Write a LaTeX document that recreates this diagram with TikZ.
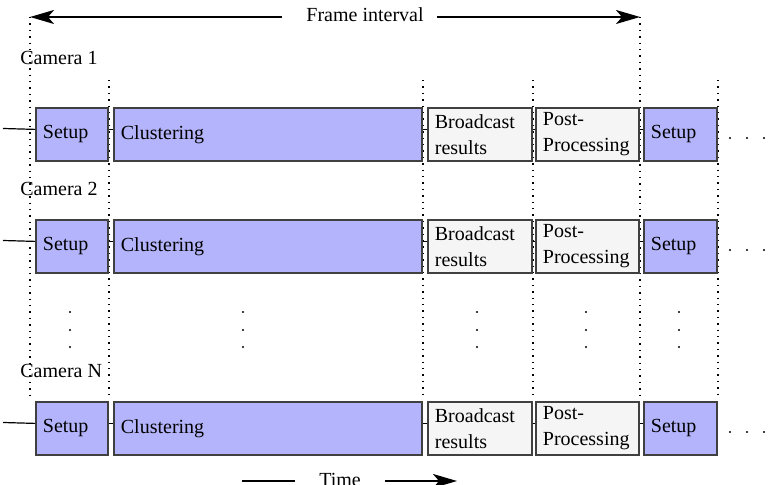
\documentclass[tikz,border=0pt]{standalone}
\usepackage{fontspec}
\setmainfont{Liberation Serif}
\usetikzlibrary{arrows.meta}
\definecolor{stageblue}{RGB}{180,180,252}
\definecolor{stagegray}{RGB}{245,245,245}
\definecolor{stageedge}{RGB}{64,64,64}
\tikzset{
  stage/.style={draw=stageedge, fill=#1, line width=0.9pt, anchor=north west,
    minimum height=26.5pt, inner xsep=3.5pt, inner ysep=0pt, align=left,
    font=\fontsize{10}{13}\selectfont},
  guide/.style={line width=0.7pt, dash pattern=on 0.7pt off 2.5pt},
  link/.style={line width=0.6pt},
  span/.style={line width=0.9pt, -{Stealth[length=12pt,width=7pt,inset=3pt]}},
  camlabel/.style={anchor=west, inner sep=0pt}
}
\begin{document}
\begin{tikzpicture}[x=0.5pt,y=-0.5pt]
  \useasboundingbox (0,0) rectangle (775,485);
  % frame interval
  \node (frame) at (365,15) {Frame interval};
  \coordinate (fl) at (30,17);
  \coordinate (fla) at (282,17);
  \coordinate (fr) at (640,17);
  \coordinate (fra) at (437,17);
  \draw[span] (fla) -- (fl);
  \draw[span] (fra) -- (fr);
  % time lines
  \foreach \x/\t in {30/17,109/80,423/80,533/80,640/17,718/80}
    \draw[guide] (\x,\t) -- (\x,399);
  % cameras
  \node[camlabel] (cam1) at (20,58) {Camera 1};
  \node[camlabel] (cam2) at (20,189) {Camera 2};
  \node[camlabel] (camN) at (20,371) {Camera N};
  \foreach \r/\y in {1/107,2/219,3/401} {
    \coordinate (in\r) at (3,\y+21.5);
    \node[stage=stageblue, text width=29pt] (setupa\r) at (35,\y) {Setup};
    \node[stage=stageblue, text width=147pt] (clust\r) at (113,\y) {Clustering};
    \node[stage=stagegray, text width=45pt] (bcast\r) at (427,\y) {Broadcast\\results};
    \node[stage=stagegray, text width=44.5pt] (post\r) at (535,\y) {Post-\\Processing};
    \node[stage=stageblue, text width=29.5pt] (setupb\r) at (643,\y) {Setup};
    \draw[link] (in\r) -- ([yshift=2.5pt]setupa\r.west);
    \draw[link] ([yshift=2.5pt]setupa\r.east) -- ([yshift=2.5pt]clust\r.west);
    \draw[link] ([yshift=2.5pt]clust\r.east) -- ([yshift=2.5pt]bcast\r.west);
    \draw[link] ([yshift=2.5pt]bcast\r.east) -- ([yshift=2.5pt]post\r.west);
    \draw[link] ([yshift=2.5pt]post\r.east) -- ([yshift=2.5pt]setupb\r.west);
    \foreach \x in {730,747,764}
      \fill (\x,\y+31) circle (0.6pt);
  }
  % more cameras
  \foreach \x in {70,243,477,586,679}
    \foreach \y in {312,330,347}
      \fill (\x,\y) circle (0.6pt);
  % time axis
  \node (time) at (340,480) {Time};
  \coordinate (ta) at (242,481);
  \coordinate (tb) at (295,481);
  \coordinate (tc) at (385,481);
  \coordinate (td) at (457,481);
  \draw[line width=0.9pt] (ta) -- (tb);
  \draw[span] (tc) -- (td);
\end{tikzpicture}
\end{document}
